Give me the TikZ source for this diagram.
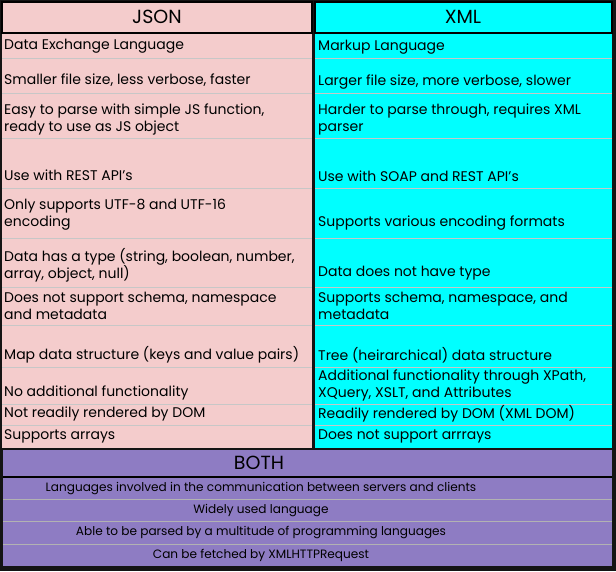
\documentclass[tikz,border=0pt]{standalone}
\usepackage{fontspec}
\setmainfont{Poppins}
\definecolor{jsonpink}{RGB}{244,204,204}
\definecolor{xmlcyan}{RGB}{0,255,255}
\definecolor{bothpurple}{RGB}{142,124,195}
\tikzset{
  cell/.style={anchor=west,inner sep=0pt,font=\fontsize{14}{17}\selectfont,align=left},
  head/.style={inner sep=0pt,font=\fontsize{19}{22}\selectfont},
  both/.style={inner sep=0pt,font=\fontsize{12.1}{14}\selectfont},
}
\begin{document}
\begin{tikzpicture}[x=1pt,y=1pt,yscale=-1]
  %background
  \fill [black!92] (0,0) rectangle (616,571);
  %JSON column
  \fill [jsonpink] (2,2) rectangle (312,448);
  \fill [xmlcyan] (315,2) rectangle (612,448);
  \draw [line width=1.5pt] (2,2) rectangle (312,33);
  \draw [line width=1.5pt] (315,2) rectangle (612,33);
  %row rules
  \foreach \y in {58,93,138,188,238,287,325,367,404,425}{
    \draw [black!22,line width=0.8pt] (2,\y) -- (312,\y);
    \draw [black!22,line width=0.8pt] (315,\y) -- (612,\y);
  }
  %BOTH box
  \fill [bothpurple] (3,450) rectangle (612,566);
  \draw [line width=1.5pt] (3,477) -- (612,477);
  \foreach \y in {499,521,544}
    \draw [black!30,line width=0.8pt] (3,\y) -- (612,\y);

  % headers
  \node [head] (jsonhead) at (157,17) {JSON};
  \node [head] (xmlhead) at (463,17) {XML};
  \node [head] (bothhead) at (259,463) {BOTH};

  % JSON cells
  \node [cell] (j1) at (4,46) {Data Exchange Language};
  \node [cell] (j2) at (4,80) {Smaller file size, less verbose, faster};
  \node [cell] (j3) at (4,119.5) {Easy to parse with simple JS function,\\ready to use as JS object};
  \node [cell] (j4) at (4,175) {Use with REST API's};
  \node [cell] (j5) at (4,214.5) {Only supports UTF-8 and UTF-16\\encoding};
  \node [cell] (j6) at (4,265.5) {Data has a type (string, boolean, number,\\array, object, null)};
  \node [cell] (j7) at (4,306) {Does not support schema, namespace\\and metadata};
  \node [cell] (j8) at (4,355) {Map data structure (keys and value pairs)};
  \node [cell] (j9) at (4,393) {No additional functionality};
  \node [cell] (j10) at (4,414) {Not readily rendered by DOM};
  \node [cell] (j11) at (4,436) {Supports arrays};

  % XML cells
  \node [cell] (x1) at (318,47) {Markup Language};
  \node [cell] (x2) at (318,82) {Larger file size, more verbose, slower};
  \node [cell] (x3) at (318,119.5) {Harder to parse through, requires XML\\parser};
  \node [cell] (x4) at (318,176) {Use with SOAP and REST API's};
  \node [cell] (x5) at (318,223) {Supports various encoding formats};
  \node [cell] (x6) at (318,273) {Data does not have type};
  \node [cell] (x7) at (318,306) {Supports schema, namespace, and\\metadata};
  \node [cell] (x8) at (318,355) {Tree (heirarchical) data structure};
  \node [cell] (x9) at (318,385) {Additional functionality through XPath,\\XQuery, XSLT, and Attributes};
  \node [cell] (x10) at (318,414) {Readily rendered by DOM (XML DOM)};
  \node [cell] (x11) at (318,436) {Does not support arrrays};

  % BOTH cells
  \node [both] (b1) at (261,489) {Languages involved in the communication between servers and clients};
  \node [both] (b2) at (261,511) {Widely used language};
  \node [both] (b3) at (261,533) {Able to be parsed by a multitude of programming languages};
  \node [both] (b4) at (261,555) {Can be fetched by XMLHTTPRequest};
\end{tikzpicture}
\end{document}
